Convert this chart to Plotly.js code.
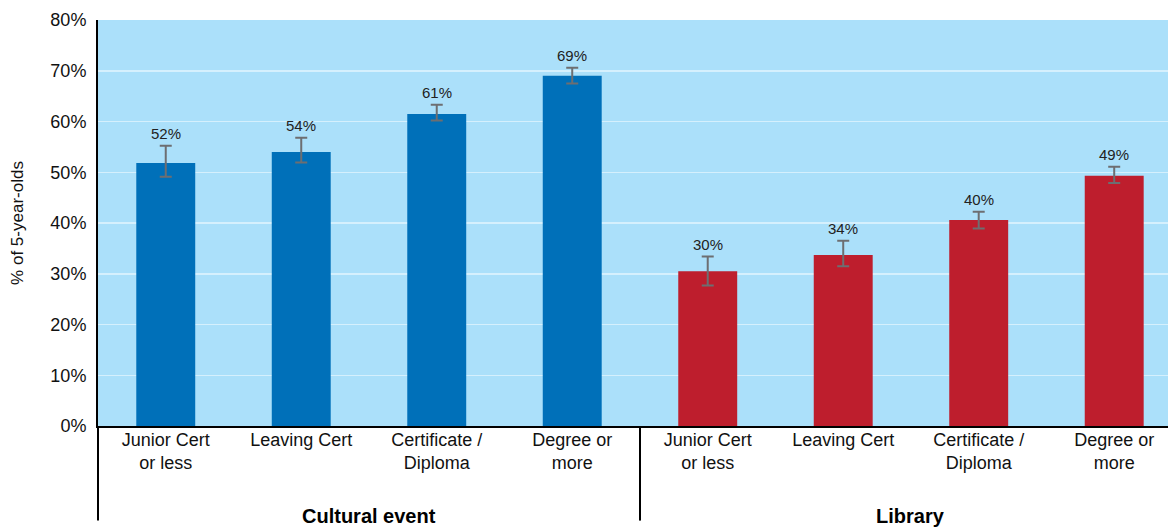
<!DOCTYPE html>
<html>
<head>
<meta charset="utf-8">
<script src="https://cdn.plot.ly/plotly-3.0.1.min.js"></script>
<style>html,body{margin:0;padding:0;background:#fff;}#chart{width:1168px;height:529px;}</style>
</head>
<body>
<div id="chart"></div>
<script>
// ---- data ----
const levels = ["Junior Cert<br>or less", "Leaving Cert", "Certificate /<br>Diploma", "Degree or<br>more"];
const groups = ["Cultural event", "Library"];
const culturalValues = [51.8, 54.0, 61.5, 69.0];
const culturalErrPlus = [3.4, 2.8, 1.8, 1.6];
const culturalErrMinus = [2.7, 2.1, 1.3, 1.5];
const culturalLabels = ["52%", "54%", "61%", "69%"];
const libraryValues = [30.5, 33.7, 40.6, 49.3];
const libraryErrPlus = [2.9, 2.8, 1.6, 1.8];
const libraryErrMinus = [2.8, 2.2, 1.7, 1.4];
const libraryLabels = ["30%", "34%", "40%", "49%"];
const yTicks = [0, 10, 20, 30, 40, 50, 60, 70, 80];
const yTickText = ["0%", "10%", "20%", "30%", "40%", "50%", "60%", "70%", "80%"];

const xCult = levels.map((_, i) => i);
const xLib = levels.map((_, i) => i + levels.length);

const errStyle = {color: "#6d6e71", thickness: 2, width: 6};

const traces = [
  {type: "bar", x: xCult, y: culturalValues, width: 0.435, marker: {color: "#0070b9"},
   error_y: Object.assign({type: "data", symmetric: false, array: culturalErrPlus, arrayminus: culturalErrMinus}, errStyle),
   hoverinfo: "skip", showlegend: false},
  {type: "bar", x: xLib, y: libraryValues, width: 0.435, marker: {color: "#be1e2d"},
   error_y: Object.assign({type: "data", symmetric: false, array: libraryErrPlus, arrayminus: libraryErrMinus}, errStyle),
   hoverinfo: "skip", showlegend: false}
];

const annotations = [];
function addLabels(xs, vals, plus, labels) {
  xs.forEach((x, i) => {
    annotations.push({x: x, y: vals[i] + plus[i], xref: "x", yref: "y", text: labels[i],
      showarrow: false, yanchor: "bottom", yshift: 2,
      font: {family: "Liberation Sans, Arial, sans-serif", size: 15, color: "#222"}});
  });
}
addLabels(xCult, culturalValues, culturalErrPlus, culturalLabels);
addLabels(xLib, libraryValues, libraryErrPlus, libraryLabels);

const groupCenters = [(xCult[0] + xCult[xCult.length - 1]) / 2, (xLib[0] + xLib[xLib.length - 1]) / 2];
groups.forEach((g, i) => {
  annotations.push({x: groupCenters[i], xref: "x", y: -0.222, yref: "paper", text: "<b>" + g + "</b>",
    showarrow: false, yanchor: "middle",
    font: {family: "Liberation Sans, Arial, sans-serif", size: 20, color: "#000"}});
});

const divider = levels.length - 0.5;
const shapes = [
  {type: "line", xref: "paper", yref: "paper", x0: 0, x1: 0, y0: 0, y1: -0.233, line: {color: "#000", width: 2}},
  {type: "line", xref: "x", yref: "paper", x0: divider, x1: divider, y0: 0, y1: -0.233, line: {color: "#000", width: 2}}
];

const layout = {
  width: 1168, height: 529,
  margin: {l: 98, r: 0, t: 20, b: 103, pad: 0},
  paper_bgcolor: "#ffffff",
  plot_bgcolor: "#abe0fa",
  font: {family: "Liberation Sans, Arial, sans-serif", color: "#111"},
  xaxis: {
    range: [-0.5, 7.397], tickmode: "array",
    tickvals: xCult.concat(xLib), ticktext: levels.concat(levels),
    showgrid: false, zeroline: false, showline: true, linecolor: "#000", linewidth: 2,
    ticks: "", ticklabelstandoff: -4,
    tickfont: {size: 18, color: "#111"}, fixedrange: true
  },
  yaxis: {
    range: [0, 80], tickmode: "array", tickvals: yTicks, ticktext: yTickText,
    showgrid: true, gridcolor: "rgba(255,255,255,0.5)", gridwidth: 1.5,
    zeroline: false, showline: true, linecolor: "#000", linewidth: 2,
    ticks: "", ticklabelstandoff: 6,
    tickfont: {size: 18, color: "#111"},
    title: {text: "% of 5-year-olds", font: {size: 17, color: "#111"}, standoff: 22},
    automargin: false,
    fixedrange: true
  },
  annotations: annotations,
  shapes: shapes,
  bargap: 0.5
};

Plotly.newPlot("chart", traces, layout, {displayModeBar: false, staticPlot: true});
</script>
</body>
</html>
